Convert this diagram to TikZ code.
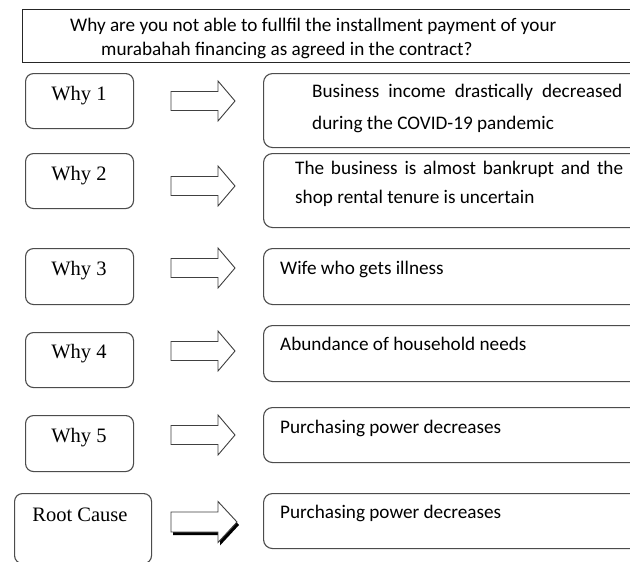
\documentclass[tikz,border=0pt]{standalone}
\usepackage{fontspec}
\setmainfont{Liberation Serif}
\newfontfamily\calfont{Carlito}
\begin{document}
\begin{tikzpicture}[x=1pt,y=-1pt,
  qbox/.style={draw=black!85, line width=1.1pt, minimum width=640, minimum height=53, anchor=north west, inner sep=0},
  whybox/.style={draw=black!70, line width=1.1pt, rounded corners=8pt, minimum width=108, anchor=north west, inner sep=0},
  rbox/.style={draw=black!70, line width=1.1pt, rounded corners=9pt, minimum width=390, anchor=north west, inner sep=0},
  caltext/.style={font=\calfont\fontsize{19.2}{23}\selectfont, inner sep=0, anchor=base west},
  whytext/.style={font=\fontsize{20.5}{24}\selectfont, inner sep=0, anchor=base},
  arrowline/.style={draw=black!75, fill=white, line width=0.9pt, line join=miter},
  blockarrow/.pic={\draw[arrowline] (0,-9.5) -- (47,-9.5) -- (47,-20) -- (64,0) -- (47,20) -- (47,9.5) -- (0,9.5) -- cycle;},
  shadowarrow/.pic={
    \fill[black] (2,-7) -- (49,-7) -- (49,-17.5) -- (68,3) -- (49,23.5) -- (49,13) -- (2,13) -- cycle;
    \draw[arrowline] (0,-10) -- (47,-10) -- (47,-20.5) -- (66,0) -- (47,20.5) -- (47,10) -- (0,10) -- cycle;}
]
\useasboundingbox (0,0) rectangle (630,562);
\fill[white] (0,0) rectangle (630,562);
\clip (0,0) rectangle (630,562);

% question box
\node[qbox] (q) at (22,9) {};
\node[caltext] (q1) at (70,31) {Why are you not able to fullfil the installment payment of your};
\node[caltext] (q2) at (101,56) {murabahah financing as agreed in the contract?};

% why boxes
\node[whybox, minimum height=55] (w1) at (25,73) {};
\node[whybox, minimum height=55] (w2) at (25,153) {};
\node[whybox, minimum height=56] (w3) at (25,248) {};
\node[whybox, minimum height=55] (w4) at (25,332) {};
\node[whybox, minimum height=56] (w5) at (25,415) {};
\node[whybox, minimum width=137, minimum height=70] (w6) at (14,493) {};

\node[whytext] (w1t) at (79,100) {Why 1};
\node[whytext] (w2t) at (79,180) {Why 2};
\node[whytext] (w3t) at (79,275) {Why 3};
\node[whytext] (w4t) at (79,358) {Why 4};
\node[whytext] (w5t) at (79,442) {Why 5};
\node[whytext] (w6t) at (80,521) {Root Cause};

% arrows
\pic (a1) at (171,101) {blockarrow};
\pic (a2) at (171,186) {blockarrow};
\pic (a3) at (171,268) {blockarrow};
\pic (a4) at (171,351) {blockarrow};
\pic (a5) at (171,435) {blockarrow};
\pic (a6) at (171,522) {shadowarrow};

% answer boxes
\node[rbox, minimum height=74] (r1) at (263,73) {};
\node[rbox, minimum height=74] (r2) at (263,153) {};
\node[rbox, minimum height=56] (r3) at (263,248) {};
\node[rbox, minimum height=56] (r4) at (263,325) {};
\node[rbox, minimum height=55] (r5) at (263,407) {};
\node[rbox, minimum height=55] (r6) at (263,493) {};

\node[caltext] (r1a) at (312,97) {\makebox[310pt][s]{Business income drastically decreased}};
\node[caltext] (r1b) at (312,129) {during the COVID-19 pandemic};
\node[caltext] (r2a) at (295,174) {\makebox[328pt][s]{The business is almost bankrupt and the}};
\node[caltext] (r2b) at (295,203) {shop rental tenure is uncertain};
\node[caltext] (r3a) at (280,274) {Wife who gets illness};
\node[caltext] (r4a) at (280,350) {Abundance of household needs};
\node[caltext] (r5a) at (280,433) {Purchasing power decreases};
\node[caltext] (r6a) at (280,518) {Purchasing power decreases};
\end{tikzpicture}
\end{document}
